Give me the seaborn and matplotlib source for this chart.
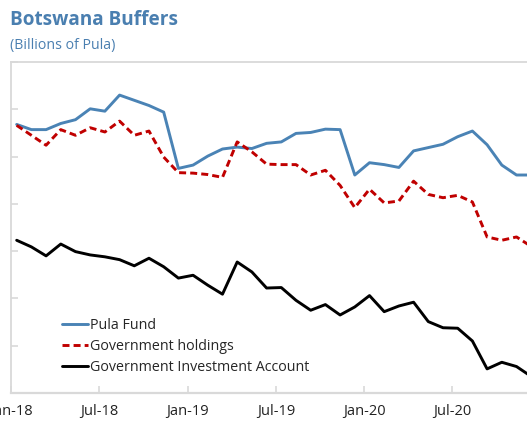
import matplotlib
matplotlib.use("Agg")
import matplotlib.pyplot as plt
import seaborn as sns
import pandas as pd
import numpy as np

sns.set_style("white")
plt.rcParams["font.family"] = ["Open Sans", "DejaVu Sans"]

months = pd.date_range("2018-01-01", periods=36, freq="MS")
month_labels = [d.strftime("%b-%y") for d in months]

pula_fund = [56.8, 55.7, 55.7, 57.0, 57.8, 60.1, 59.6, 63.0, 61.9, 60.8, 59.4, 47.5,
             48.2, 50.1, 51.6, 52.0, 51.7, 52.8, 53.1, 54.9, 55.1, 55.8, 55.7, 46.1,
             48.7, 48.3, 47.7, 51.2, 51.9, 52.6, 54.2, 55.4, 52.5, 48.2, 46.1, 46.1]
gov_holdings = [56.6, 54.5, 52.4, 55.7, 54.5, 56.1, 55.2, 57.5, 54.5, 55.4, 49.9, 46.6,
                46.5, 46.2, 45.6, 53.1, 51.0, 48.4, 48.3, 48.3, 46.1, 47.1, 43.9, 39.2,
                43.1, 40.2, 40.6, 44.8, 42.0, 41.3, 41.8, 40.4, 33.0, 32.3, 33.0, 31.0]
gia = [32.3, 30.9, 29.0, 31.5, 29.9, 29.2, 28.8, 28.2, 26.9, 28.5, 26.7, 24.3,
       24.9, 22.8, 20.9, 27.7, 25.6, 22.2, 22.3, 19.6, 17.5, 18.7, 16.5, 18.2,
       20.6, 17.2, 18.4, 19.2, 15.1, 13.8, 13.7, 11.0, 5.1, 6.5, 5.6, 3.5]

series_names = ["Pula Fund", "Government holdings", "Government Investment Account"]
tick_months = ["Jan-18", "Jul-18", "Jan-19", "Jul-19", "Jan-20", "Jul-20"]
y_ticks = [0, 10, 20, 30, 40, 50, 60, 70]

idx = np.arange(len(months))
df = pd.DataFrame({"idx": idx, "pula": pula_fund, "gov": gov_holdings, "gia": gia})

W, H = 527, 421
fig = plt.figure(figsize=(W / 100, H / 100), dpi=100)

x0, x1 = -0.42, 36.5
left_px, bottom_px, top_px = 10.5, 393, 62
px_per = 14.7
right_px = 16.7 + px_per * (x1 - 0)
ax = fig.add_axes([left_px / W, (H - bottom_px) / H,
                   (right_px - left_px) / W, (bottom_px - top_px) / H])

sns.lineplot(data=df, x="idx", y="pula", ax=ax, color="#4a83b5", lw=2.1,
             label=series_names[0])
sns.lineplot(data=df, x="idx", y="gov", ax=ax, color="#c00000", lw=2.1,
             linestyle=(0, (2.4, 1.4)), label=series_names[1])
sns.lineplot(data=df, x="idx", y="gia", ax=ax, color="black", lw=2.1,
             label=series_names[2])

ax.set_xlim(x0, x1)
ax.set_ylim(0, 70)
tick_pos = [month_labels.index(m) - 0.37 for m in tick_months]
ax.set_xticks(tick_pos)
ax.set_xticklabels(tick_months)
ax.set_yticks(y_ticks)
ax.set_xlabel("")
ax.set_ylabel("")

for s in ["top", "right", "left", "bottom"]:
    ax.spines[s].set_color("#d9d9d9")
    ax.spines[s].set_linewidth(1.3)
ax.spines["bottom"].set_linewidth(1.6)
ax.tick_params(axis="both", direction="in", length=5, width=1.2, color="#d9d9d9",
               labelsize=10.5, labelcolor="#222222")
ax.tick_params(axis="x", pad=8, bottom=True)
ax.tick_params(axis="y", left=True, labelleft=False)

leg = ax.legend(loc="upper left", bbox_to_anchor=((62 - left_px) / (right_px - left_px),
                (bottom_px - 318) / (bottom_px - top_px)),
                frameon=False, fontsize=10.3, handlelength=1.8, handletextpad=0.15,
                labelspacing=0.42, borderaxespad=0, borderpad=0)

fig.text(10 / W, 1 - 20 / H, "Botswana Buffers", color="#4a7fb0", fontsize=13.7,
         fontweight="bold", va="center", ha="left")
fig.text(10 / W, 1 - 45 / H, "(Billions of Pula)", color="#4a7fb0", fontsize=10.2,
         va="center", ha="left")

fig.savefig("out.png", dpi=100)
